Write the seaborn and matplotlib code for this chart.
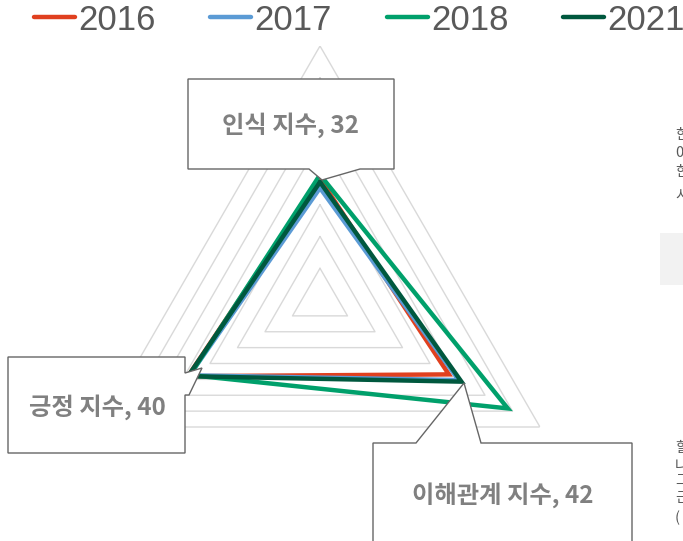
import numpy as np
import pandas as pd
import matplotlib
matplotlib.use("Agg")
import matplotlib.pyplot as plt
from matplotlib.patches import Polygon, Rectangle
from matplotlib.lines import Line2D
import seaborn as sns

# -----------------------------
# Data
# -----------------------------
categories = ["인식 지수", "이해관계 지수", "긍정 지수"]   # clockwise from top
years = ["2016", "2017", "2018", "2021"]
v2016 = [32.7, 38.8, 39.6]
v2017 = [30.7, 41.3, 39.2]
v2018 = [33.6, 53.8, 39.1]
v2021 = [32, 42, 39.6]
colors = ["#E0401F", "#5B9BD5", "#00A06B", "#00583E"]
ring_levels = [13, 20, 27, 34, 41, 48, 55, 62]
r_min = 6
callouts = ["인식 지수, 32", "이해관계 지수, 42", "긍정 지수, 40"]

df = pd.DataFrame({"2016": v2016, "2017": v2017, "2018": v2018, "2021": v2021},
                  index=categories)

sns.set_theme(style="white")
plt.rcParams["font.family"] = ["Noto Sans CJK KR", "DejaVu Sans"]

W, H = 683, 541
fig = plt.figure(figsize=(W / 100, H / 100), dpi=100)


def fx(x):
    return x / W


def fy(y):
    return 1 - y / H


# radar axes: center (320, 300), outer radius 254 px
cx, cy, R = 320, 300, 254
ax = fig.add_axes([fx(cx - R), fy(cy + R), 2 * R / W, 2 * R / H], projection="polar")
ax.set_theta_offset(np.pi / 2)
ax.set_theta_direction(-1)
ax.set_ylim(r_min, ring_levels[-1])
ax.grid(False)
ax.set_xticks([])
ax.set_yticks([])
ax.spines["polar"].set_visible(False)
ax.patch.set_alpha(0)

angles = np.linspace(0, 2 * np.pi, len(categories), endpoint=False).tolist()
closed = angles + angles[:1]

# triangular grid
for lvl in ring_levels:
    ax.plot(closed, [lvl] * len(closed), color="#d9d9d9", lw=1.0, zorder=1)

# series
for year, col in zip(years, colors):
    vals = df[year].tolist()
    ax.plot(closed, vals + vals[:1], color=col, lw=3.2,
            solid_joinstyle="miter", zorder=3)

# -----------------------------
# Legend
# -----------------------------
handles = [Line2D([0], [0], color=c, lw=3.2, solid_capstyle="round") for c in colors]
fig.legend(handles, years, ncol=4, loc="center left",
           bbox_to_anchor=(fx(34), fy(20)), frameon=False,
           prop={"family": "Liberation Sans", "size": 25},
           labelcolor="#595959", handlelength=1.18, handletextpad=0.09,
           columnspacing=1.58, borderpad=0, borderaxespad=0)

# -----------------------------
# Callouts
# -----------------------------
edge = "#666666"


def callout(pts, text, tx, ty):
    poly = Polygon([(fx(x), fy(y)) for x, y in pts], closed=True,
                   transform=fig.transFigure, facecolor="white",
                   edgecolor=edge, lw=1.0, zorder=10)
    fig.add_artist(poly)
    fig.text(fx(tx), fy(ty), text, ha="center", va="center", fontsize=17.5,
             fontweight="bold", color="#808080", zorder=11)


callout([(188, 79), (394, 79), (394, 169), (360, 169), (322, 180), (309, 169), (188, 169)],
        callouts[0], 291, 125)
callout([(8, 357), (185, 357), (185, 373), (202, 368), (189, 395), (185, 395), (185, 453), (8, 453)],
        callouts[2], 97, 407)
callout([(373, 443), (416, 443), (464, 383), (481, 443), (632, 443), (632, 560), (373, 560)],
        callouts[1], 503, 495)

# cut-off page content at the right edge
fig.add_artist(Rectangle((fx(660), fy(285)), fx(30), 52 / H, transform=fig.transFigure,
                         facecolor="#f2f2f2", edgecolor="none"))
for y, s in zip([135, 153, 172, 196], ["한", "0", "한", "시"]):
    fig.text(fx(675), fy(y), s, fontsize=10.5, color="#595959", va="center")
for y, s in zip([448, 466, 482, 498, 518], ["할", "나", "그", "근", "("]):
    fig.text(fx(675), fy(y), s, fontsize=10.5, color="#595959", va="center")

fig.savefig("out.png", dpi=100)
